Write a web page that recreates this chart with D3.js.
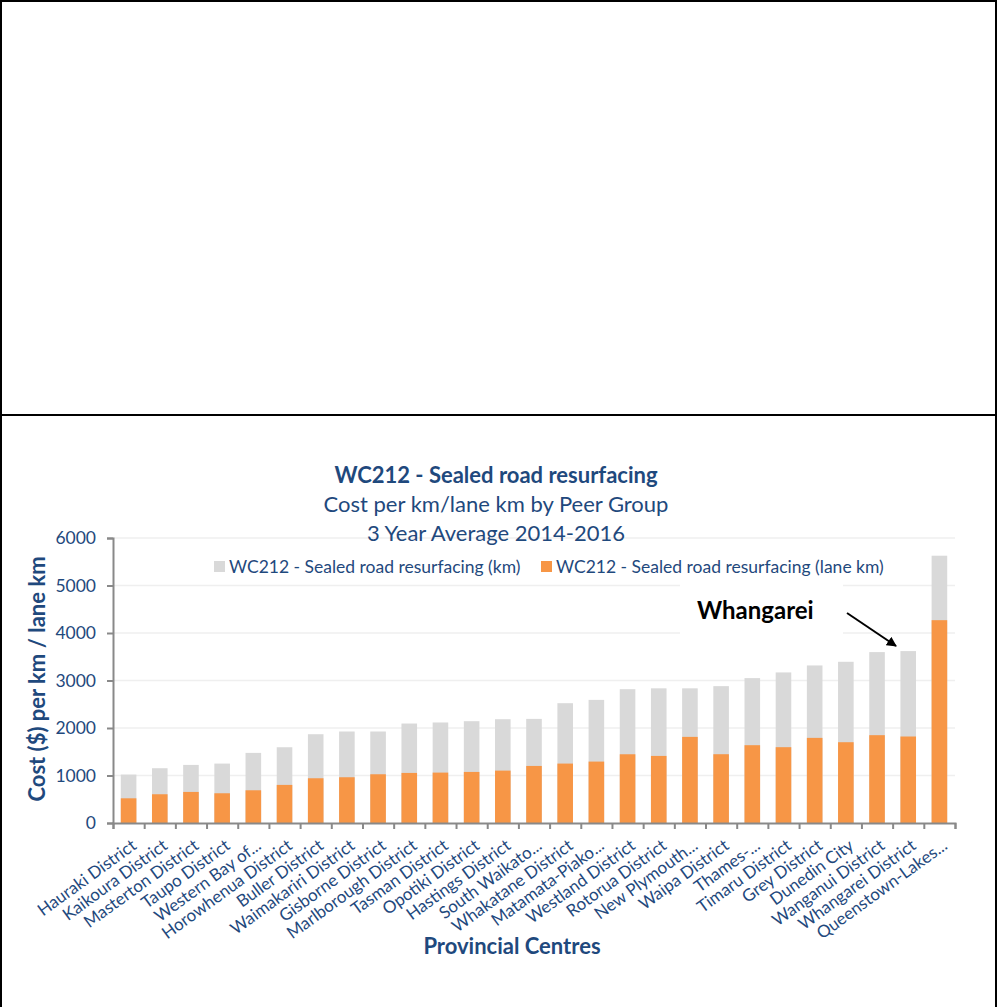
<!DOCTYPE html>
<html>
<head>
<meta charset="utf-8">
<script src="https://cdn.jsdelivr.net/npm/d3@7/dist/d3.min.js"></script>
<style>
body { margin: 0; background: #fff; }
svg { display: block; }
text { font-family: Lato, "Open Sans", sans-serif; }
</style>
</head>
<body>
<svg id="viz"></svg>
<script>
// WC212 sealed road resurfacing, provincial centres peer group

var width = 999;
var height = 1007;

var categories = [
	"Hauraki District", "Kaikoura District", "Masterton District", "Taupo District",
	"Western Bay of...", "Horowhenua District", "Buller District", "Waimakariri District",
	"Gisborne District", "Marlborough District", "Tasman District", "Opotiki District",
	"Hastings District", "South Waikato...", "Whakatane District", "Matamata-Piako...",
	"Westland District", "Rotorua District", "New Plymouth...", "Waipa District",
	"Thames-...", "Timaru District", "Grey District", "Dunedin City",
	"Wanganui District", "Whangarei District", "Queenstown-Lakes..."
];

// cost per km (grey)
var kmValues = [
	1020, 1153, 1223, 1251, 1476, 1595, 1869, 1926,
	1926, 2094, 2116, 2143, 2185, 2192, 2522, 2592,
	2817, 2835, 2835, 2881, 3050, 3170, 3317, 3394,
	3598, 3619, 5627
];

// cost per lane km (orange)
var laneKmValues = [
	520, 605, 654, 626, 689, 802, 942, 963,
	1026, 1054, 1061, 1075, 1103, 1201, 1251, 1293,
	1447, 1412, 1813, 1448, 1638, 1596, 1792, 1701,
	1849, 1821, 4270
];

var yTicks = [0, 1000, 2000, 3000, 4000, 5000, 6000];

var seriesNames = [
	"WC212 - Sealed road resurfacing (km)",
	"WC212 - Sealed road resurfacing (lane km)"
];
var colors = ["#d9d9d9", "#f79646"];
var textBlue = "#1f497d";
var axisGrey = "#898989";

var plot = {left: 113, right: 955, top: 538, bottom: 823};

var svg = d3.select("#viz")
	.attr("width", width)
	.attr("height", height);

// frame: two stacked boxes
svg.append("rect")
	.attr("x", 1).attr("y", 1)
	.attr("width", 995).attr("height", height + 10)
	.style("fill", "none").style("stroke", "#000").style("stroke-width", 2);
svg.append("line")
	.attr("x1", 1).attr("x2", 996)
	.attr("y1", 415).attr("y2", 415)
	.style("stroke", "#000").style("stroke-width", 2);

var x = d3.scaleBand()
	.domain(categories)
	.range([plot.left, plot.right])
	.paddingInner(0.5)
	.paddingOuter(0.25);

var xEdges = d3.scaleLinear()
	.domain([0, categories.length])
	.range([plot.left, plot.right]);

var y = d3.scaleLinear()
	.domain([0, 6000])
	.range([plot.bottom, plot.top]);

// gridlines
svg.append("g")
	.selectAll("line")
	.data(yTicks.slice(1))
	.join("line")
	.attr("x1", plot.left).attr("x2", plot.right)
	.attr("y1", d => y(d)).attr("y2", d => y(d))
	.style("stroke", "#efefef")
	.style("stroke-width", 1.5);

// white box behind the annotation
svg.append("rect")
	.attr("x", 680).attr("y", 578)
	.attr("width", 163).attr("height", 68)
	.style("fill", "#fff");

// bars: grey (km) behind, orange (lane km) on top
var barData = [kmValues, laneKmValues];
barData.forEach((vals, s) => {
	svg.append("g")
		.selectAll("rect")
		.data(vals)
		.join("rect")
		.attr("x", (d, i) => x(categories[i]))
		.attr("width", x.bandwidth())
		.attr("y", d => y(d))
		.attr("height", d => y(0) - y(d))
		.style("fill", colors[s]);
});

// y axis
var yAxis = svg.append("g")
	.attr("transform", "translate(" + plot.left + ",0)")
	.call(d3.axisLeft(y).tickValues(yTicks).tickFormat(d3.format("d")).tickSize(6).tickPadding(11));
yAxis.select(".domain").style("stroke", axisGrey).style("stroke-width", 2);
yAxis.selectAll(".tick line").style("stroke", axisGrey).style("stroke-width", 2);
yAxis.selectAll(".tick text")
	.style("font-size", "17.5px")
	.style("fill", textBlue)
	.style("font-family", "Lato, sans-serif");

// x axis (ticks at band edges)
var xAxis = svg.append("g")
	.attr("transform", "translate(0," + plot.bottom + ")")
	.call(d3.axisBottom(xEdges).tickValues(d3.range(categories.length + 1)).tickFormat("").tickSize(6));
xAxis.select(".domain").style("stroke", axisGrey).style("stroke-width", 2);
xAxis.selectAll(".tick line").style("stroke", axisGrey).style("stroke-width", 2);

svg.append("g")
	.selectAll("text")
	.data(categories)
	.join("text")
	.attr("text-anchor", "end")
	.attr("transform", d => "translate(" + (x(d) + x.bandwidth() / 2 + 9) + "," + (plot.bottom + 25) + ") rotate(-36)")
	.style("font-size", "17px")
	.style("fill", textBlue)
	.text(d => d);

// titles
var titles = [
	{t: "WC212 - Sealed road resurfacing", y: 483, w: "bold"},
	{t: "Cost per km/lane km by Peer Group", y: 512, w: "normal"},
	{t: "3 Year Average 2014-2016", y: 541, w: "normal"}
];
svg.append("g")
	.selectAll("text")
	.data(titles)
	.join("text")
	.attr("x", 496)
	.attr("y", d => d.y)
	.attr("text-anchor", "middle")
	.style("font-size", "22px")
	.style("font-weight", d => d.w)
	.style("fill", textBlue)
	.text(d => d.t);

// axis titles
svg.append("text")
	.attr("transform", "translate(45,679) rotate(-90)")
	.attr("text-anchor", "middle")
	.style("font-size", "22px")
	.style("font-weight", "bold")
	.style("fill", textBlue)
	.text("Cost ($) per km / lane km");

svg.append("text")
	.attr("x", 512)
	.attr("y", 954)
	.attr("text-anchor", "middle")
	.style("font-size", "22px")
	.style("font-weight", "bold")
	.style("fill", textBlue)
	.text("Provincial Centres");

// legend
var legendX = [214, 541];
var legend = svg.append("g")
	.selectAll("g")
	.data(seriesNames)
	.join("g")
	.attr("transform", (d, i) => "translate(" + legendX[i] + ",561)");
legend.append("rect")
	.attr("width", 11).attr("height", 11)
	.style("fill", (d, i) => colors[i]);
legend.append("text")
	.attr("x", 15)
	.attr("y", 12)
	.style("font-size", "17.5px")
	.style("fill", textBlue)
	.text(d => d);

// annotation
svg.append("defs").append("marker")
	.attr("id", "arrow")
	.attr("viewBox", "0 0 10 10")
	.attr("refX", 9).attr("refY", 5)
	.attr("markerWidth", 5).attr("markerHeight", 5)
	.attr("orient", "auto")
	.append("path")
	.attr("d", "M0,0 L10,5 L0,10 z")
	.style("fill", "#000");

svg.append("text")
	.attr("x", 697)
	.attr("y", 619)
	.style("font-size", "24px")
	.style("font-weight", "bold")
	.style("fill", "#000")
	.text("Whangarei");

svg.append("line")
	.attr("x1", 847).attr("y1", 613)
	.attr("x2", 896).attr("y2", 646)
	.style("stroke", "#000")
	.style("stroke-width", 2)
	.attr("marker-end", "url(#arrow)");
</script>
</body>
</html>
